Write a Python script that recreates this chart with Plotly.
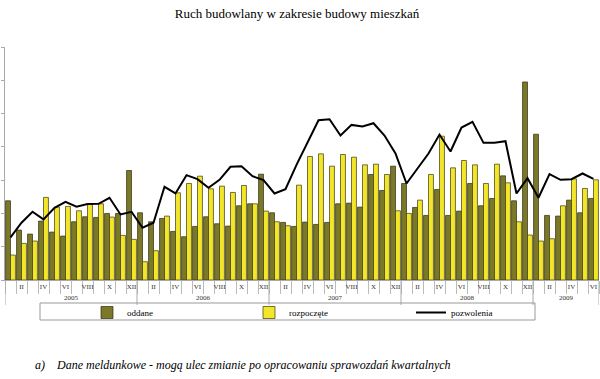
import plotly.graph_objects as go

# ---- data (monthly, Jan 2005 - Jun 2009) ----
years = ["2005", "2006", "2007", "2008", "2009"]
months_per_year = [12, 12, 12, 12, 6]
roman = ["I", "II", "III", "IV", "V", "VI", "VII", "VIII", "IX", "X", "XI", "XII"]

oddane = [11900, 7500, 6900, 8850, 7200, 6600, 8750, 9500, 9400, 10000, 10000, 16450,
          10100, 8750, 9250, 7300, 6500, 8050, 9500, 8450, 8100, 11150, 11450, 15900,
          10100, 8650, 8050, 8700, 8350, 8650, 11450, 11550, 10950, 15850, 13450, 17100,
          14500, 10900, 9700, 13600, 9700, 10350, 14500, 11150, 12250, 15650, 11900, 29750,
          21900, 9700, 9600, 12000, 10100, 12250]
rozpoczete = [3750, 5500, 5850, 12400, 10950, 11050, 10400, 11350, 11450, 9450, 6700, 6100,
              2750, 4400, 9600, 13100, 14500, 15600, 13700, 14100, 13150, 14200, 11450, 10350,
              8750, 8150, 14250, 18550, 18950, 17100, 18850, 18450, 17300, 17400, 15850, 10400,
              10000, 12000, 15850, 21600, 16850, 17950, 17300, 14500, 17400, 14600, 8750, 6750,
              5850, 6200, 11150, 15200, 13750, 15050]
pozwolenia = [6400, 8600, 10250, 9100, 10850, 11750, 11000, 11400, 11450, 12350, 9850, 10250,
              7850, 8600, 14000, 13000, 15750, 15150, 13850, 15050, 17000, 17100, 15600, 15000,
              13000, 13650, 17300, 20550, 24000, 24150, 21700, 23300, 23050, 23550, 21700, 19000,
              14500, 16750, 19000, 21850, 19300, 22900, 23750, 20600, 20600, 20850, 13000, 15300,
              12350, 15900, 15050, 15150, 16000, 15200]

y_ticks = [0, 5000, 10000, 15000, 20000, 25000, 30000, 35000]

# ---- derived positions ----
n = len(oddane)
x = list(range(1, n + 1))
month_names = []
for cnt in months_per_year:
    month_names += roman[:cnt]

label_x = [i for i, m in zip(x, month_names) if roman.index(m) % 2 == 1]
label_t = [m for m in month_names if roman.index(m) % 2 == 1]

year_bounds = [0.5]
for cnt in months_per_year:
    year_bounds.append(year_bounds[-1] + cnt)

FONT = "Liberation Serif"
OLIVE = "#7b7829"
YELLOW = "#f3e52a"

fig = go.Figure()
fig.add_trace(go.Bar(x=x, y=oddane, name="oddane",
                     marker=dict(color=OLIVE, line=dict(color="#2e2e10", width=0.7))))
fig.add_trace(go.Bar(x=x, y=rozpoczete, name="rozpoczęte",
                     marker=dict(color=YELLOW, line=dict(color="#3a3a10", width=0.7))))
fig.add_trace(go.Scatter(x=x, y=pozwolenia, name="pozwolenia", mode="lines",
                         line=dict(color="black", width=2)))

plot_h = 233.0
plot_w = 594.0

shapes = []
for b in year_bounds:
    shapes.append(dict(type="line", xref="x", yref="paper", x0=b, x1=b, y0=0, y1=-25 / plot_h,
                       line=dict(color="#aaaaaa", width=1)))
# legend frame
shapes.append(dict(type="rect", xref="paper", yref="paper",
                   x0=(40 - 5) / plot_w, x1=(535 - 5) / plot_w,
                   y0=-(303 - 280) / plot_h, y1=-(320 - 280) / plot_h,
                   line=dict(color="#999999", width=1), fillcolor="rgba(0,0,0,0)"))

annotations = []
for i, yr in enumerate(years):
    annotations.append(dict(x=(year_bounds[i] + year_bounds[i + 1]) / 2, y=-18 / plot_h,
                            xref="x", yref="paper", text=yr, showarrow=False,
                            font=dict(family=FONT, size=7, color="#333"),
                            xanchor="center", yanchor="middle"))
annotations.append(dict(x=(33 - 5) / plot_w, y=-(365 - 280) / plot_h, xref="paper", yref="paper",
                        text="<i>a)    Dane meldunkowe - mogą ulec zmianie po opracowaniu sprawozdań kwartalnych</i>",
                        showarrow=False, xanchor="left", yanchor="middle",
                        font=dict(family=FONT, size=12, color="black")))

fig.update_layout(
    width=600, height=379,
    margin=dict(l=5, r=1, t=47, b=99, autoexpand=False),
    paper_bgcolor="white", plot_bgcolor="white",
    title=dict(text="Ruch budowlany w zakresie budowy mieszkań", x=297 / 600, xanchor="center",
               y=1 - 13 / 379, yanchor="middle", automargin=False,
               font=dict(family=FONT, size=13, color="black")),
    barmode="group", bargap=0.1, bargroupgap=0.0,
    showlegend=True,
    legend=dict(orientation="h", xref="container", yref="container",
                x=87 / 600, xanchor="left", y=1 - 298 / 379, yanchor="top",
                font=dict(family=FONT, size=9, color="black"), bgcolor="rgba(0,0,0,0)",
                entrywidth=117, entrywidthmode="pixels", itemwidth=30, tracegroupgap=0),
    xaxis=dict(range=[0.5, n + 0.5], tickmode="array", tickvals=label_x, ticktext=label_t,
               ticks="", showline=True, linecolor="#aaaaaa", linewidth=1, showgrid=False,
               zeroline=False, automargin=False,
               tickfont=dict(family=FONT, size=7, color="#333"),
               minor=dict(tickmode="array", tickvals=[b + 0.5 for b in range(0, n + 1)],
                          ticks="outside", ticklen=13, tickcolor="#bbbbbb", tickwidth=1,
                          showgrid=False)),
    yaxis=dict(range=[0, 35000], tickmode="array", tickvals=y_ticks, ticks="outside", ticklen=3,
               tickcolor="#aaaaaa", showline=True, linecolor="#aaaaaa", linewidth=1,
               showgrid=False, zeroline=False, automargin=False, tickformat="d",
               tickfont=dict(family=FONT, size=7, color="#333")),
    shapes=shapes, annotations=annotations,
)

fig.write_html("out.html", config={"displayModeBar": False},
               post_script="document.body.style.margin='0';document.body.style.overflow='hidden';")
